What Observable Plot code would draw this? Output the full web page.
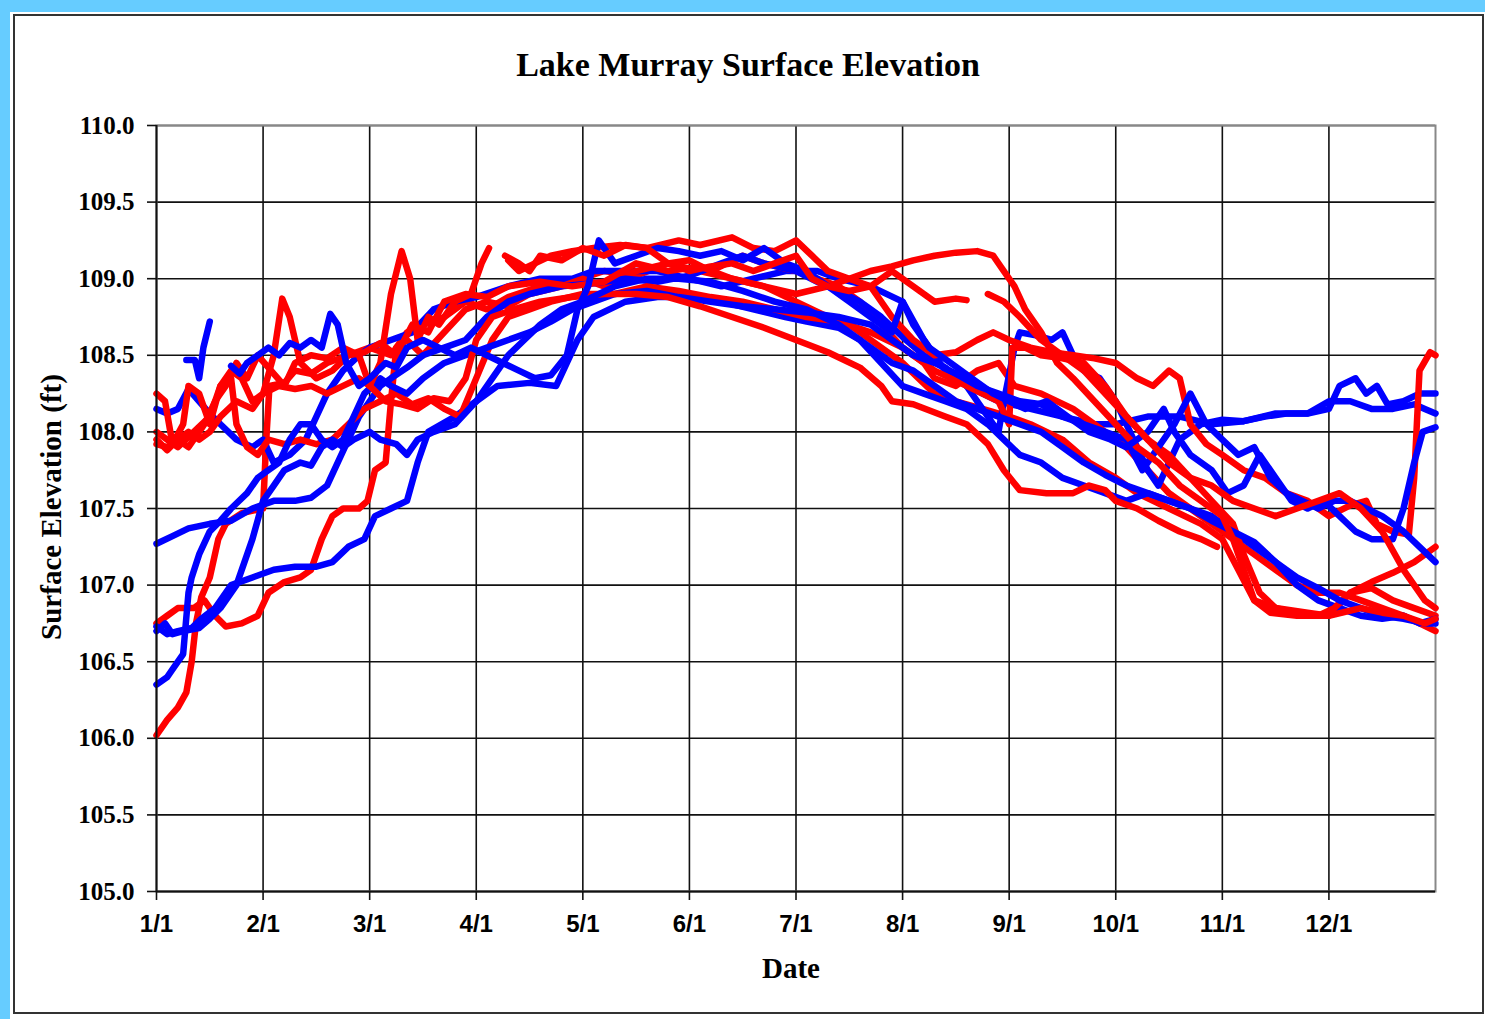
<!DOCTYPE html>
<html>
<head>
<meta charset="utf-8">
<script src="https://cdn.jsdelivr.net/npm/d3@7"></script>
<script src="https://cdn.jsdelivr.net/npm/@observablehq/plot@0.6"></script>
<style>
html, body { margin: 0; padding: 0; }
body { width: 1485px; height: 1019px; background: #66ccff; position: relative; overflow: hidden; }
#panel { position: absolute; left: 10px; top: 12px; width: 1475px; height: 1007px; background: #fff; }
#frame { position: absolute; left: 13px; top: 14px; width: 1467px; height: 996px; border: 2px solid #333; }
#title { position: absolute; left: 0; width: 1496px; top: 48px; text-align: center; font: bold 34px/34px "Liberation Serif", "Times New Roman", serif; color: #000; white-space: nowrap; }
#xlabel { position: absolute; left: 691px; width: 200px; top: 954px; text-align: center; font: bold 29px/29px "Liberation Serif", serif; color: #000; }
#ylabel { position: absolute; left: 51px; top: 507px; transform: translate(-50%, -50%) rotate(-90deg); font: bold 29px/29px "Liberation Serif", serif; color: #000; white-space: nowrap; }
#chart { position: absolute; left: 0; top: 100px; }
</style>
</head>
<body>
<div id="panel"></div>
<div id="frame"></div>
<div id="title">Lake Murray Surface Elevation</div>
<div id="chart"></div>
<div id="xlabel">Date</div>
<div id="ylabel">Surface Elevation (ft)</div>
<script>
// x = months since Jan 1 (0..12), y = surface elevation (ft)
const monthLabels = ["1/1","2/1","3/1","4/1","5/1","6/1","7/1","8/1","9/1","10/1","11/1","12/1"];
const yTicks = [105.0,105.5,106.0,106.5,107.0,107.5,108.0,108.5,109.0,109.5,110.0];

// ---- red years ----
const red1 = [[0,106.02],[0.1,106.12],[0.2,106.2],[0.28,106.3],[0.33,106.5],[0.37,106.75],[0.42,106.92],[0.5,107.05],[0.58,107.3],[0.65,107.4],[0.8,107.47],[1.0,107.5],[1.03,107.95],[1.06,108.3],[1.2,108.32],[1.3,108.4],[1.45,108.38],[1.6,108.45],[1.8,108.5],[2.0,108.55],[2.2,108.5],[2.35,108.65],[2.5,108.7],[2.7,108.75],[2.9,108.85],[3.1,108.8],[3.3,108.88],[3.6,108.95],[3.9,108.98],[4.2,109.05],[4.5,109.02],[4.8,109.1],[5.1,109.05],[5.4,109.0],[5.7,108.95],[6.0,108.85],[6.3,108.75],[6.5,108.7],[6.8,108.55],[7.0,108.45],[7.15,108.35],[7.3,108.25],[7.5,108.2],[7.75,108.15],[8.0,108.1],[8.2,108.05],[8.5,107.95],[8.75,107.8],[9.0,107.7],[9.2,107.6],[9.5,107.5],[9.8,107.4],[10.0,107.3],[10.15,107.1],[10.3,106.9],[10.5,106.85],[10.8,106.82],[11.0,106.8],[11.2,106.95],[11.4,106.98],[11.6,106.9],[11.8,106.85],[12,106.8]];
const red2 = [[0,106.75],[0.1,106.8],[0.2,106.85],[0.35,106.85],[0.45,106.9],[0.55,106.8],[0.65,106.73],[0.8,106.75],[0.95,106.8],[1.05,106.95],[1.2,107.02],[1.35,107.05],[1.45,107.1],[1.55,107.3],[1.65,107.45],[1.75,107.5],[1.9,107.5],[1.98,107.55],[2.05,107.75],[2.15,107.8],[2.2,108.2],[2.25,108.55],[2.35,108.6],[2.5,108.5],[2.7,108.65],[2.9,108.8],[3.1,108.85],[3.3,108.82],[3.5,108.9],[3.8,108.95],[4.0,109.0],[4.2,108.95],[4.5,109.05],[4.8,109.1],[5.0,109.12],[5.2,109.05],[5.5,109.15],[5.7,109.1],[6.0,109.05],[6.2,109.0],[6.4,108.95],[6.6,108.85],[6.8,108.7],[7.0,108.55],[7.2,108.45],[7.3,108.35],[7.5,108.3],[7.7,108.4],[7.9,108.45],[8.05,108.3],[8.3,108.25],[8.6,108.15],[8.9,108.0],[9.1,107.9],[9.3,107.75],[9.5,107.6],[9.7,107.5],[9.9,107.4],[10.1,107.3],[10.3,107.2],[10.5,107.1],[10.7,107.0],[10.9,106.95],[11.1,106.95],[11.3,106.9],[11.5,106.85],[11.7,106.8],[11.85,106.75],[12,106.7]];
const red3 = [[0,108.25],[0.08,108.2],[0.15,107.92],[0.25,108.05],[0.3,108.3],[0.4,108.25],[0.5,108.05],[0.6,108.3],[0.7,108.4],[0.8,108.35],[0.9,108.2],[1.0,108.25],[1.1,108.5],[1.18,108.87],[1.25,108.75],[1.35,108.45],[1.5,108.35],[1.65,108.4],[1.8,108.5],[1.95,108.52],[2.1,108.58],[2.25,108.5],[2.4,108.7],[2.55,108.65],[2.7,108.85],[2.9,108.9],[3.1,108.88],[3.3,108.95],[3.6,108.98],[3.9,108.95],[4.2,108.98],[4.5,109.1],[4.8,109.05],[5.1,109.08],[5.4,109.0],[5.7,108.95],[6.0,108.9],[6.3,108.95],[6.5,109.0],[6.7,108.95],[6.9,108.75],[7.1,108.6],[7.3,108.5],[7.5,108.52],[7.7,108.6],[7.85,108.65],[8.0,108.6],[8.2,108.55],[8.4,108.52],[8.6,108.5],[8.8,108.48],[9.0,108.45],[9.2,108.35],[9.35,108.3],[9.5,108.4],[9.6,108.35],[9.7,108.05],[9.85,107.92],[10.0,107.85],[10.2,107.75],[10.4,107.7],[10.6,107.6],[10.8,107.55],[11.0,107.45],[11.2,107.52],[11.35,107.55],[11.45,107.4],[11.6,107.35],[11.75,107.33],[11.8,107.7],[11.85,108.4],[11.95,108.52],[12,108.5]];
const red4 = [[0,108.0],[0.1,107.95],[0.2,107.9],[0.35,108.0],[0.5,108.1],[0.6,108.3],[0.7,108.35],[0.75,108.05],[0.85,107.9],[0.95,107.85],[1.05,107.95],[1.2,107.92],[1.35,107.95],[1.5,107.92],[1.65,107.95],[1.8,108.05],[1.95,108.15],[2.1,108.2],[2.25,108.25],[2.4,108.18],[2.55,108.22],[2.7,108.15],[2.85,108.1],[3.0,108.35],[3.15,108.6],[3.3,108.75],[3.5,108.8],[3.7,108.85],[4.0,108.9],[4.3,108.9],[4.6,108.95],[4.9,108.92],[5.2,108.88],[5.5,108.85],[5.8,108.8],[6.1,108.75],[6.4,108.72],[6.7,108.65],[7.0,108.55],[7.3,108.4],[7.6,108.3],[7.9,108.2],[8.0,108.05],[8.03,108.55],[8.15,108.55],[8.3,108.5],[8.5,108.48],[8.7,108.45],[8.9,108.3],[9.1,108.1],[9.3,107.95],[9.5,107.85],[9.7,107.7],[9.9,107.55],[10.1,107.4],[10.2,107.2],[10.35,106.95],[10.5,106.85],[10.7,106.82],[10.9,106.8],[11.05,106.85],[11.2,106.95],[11.4,107.02],[11.6,107.08],[11.8,107.15],[12,107.25]];
const red5 = [[0,107.92],[0.1,107.9],[0.2,107.95],[0.3,108.0],[0.4,107.95],[0.5,108.0],[0.6,108.1],[0.75,108.2],[0.9,108.15],[1.0,108.25],[1.15,108.3],[1.3,108.28],[1.45,108.3],[1.6,108.25],[1.75,108.3],[1.9,108.35],[2.0,108.3],[2.15,108.2],[2.3,108.18],[2.45,108.15],[2.6,108.22],[2.75,108.2],[2.9,108.35],[3.0,108.6],[3.15,108.75],[3.35,108.8],[3.6,108.85],[3.9,108.88],[4.2,108.9],[4.5,108.9],[4.8,108.88],[5.1,108.82],[5.4,108.75],[5.7,108.68],[6.0,108.6],[6.3,108.52],[6.6,108.42],[6.8,108.3],[6.9,108.2],[7.1,108.18],[7.4,108.1],[7.6,108.05],[7.8,107.92],[7.95,107.75],[8.1,107.62],[8.35,107.6],[8.6,107.6],[8.75,107.65],[8.9,107.62],[9.0,107.55],[9.2,107.5],[9.4,107.42],[9.6,107.35],[9.8,107.3],[9.95,107.25]];
const red6 = [[0,107.95],[0.1,107.88],[0.2,107.95],[0.3,107.9],[0.45,108.05],[0.55,108.2],[0.65,108.3],[0.75,108.45],[0.85,108.35],[0.95,108.5],[1.05,108.42],[1.2,108.3],[1.3,108.45],[1.45,108.5],[1.6,108.48],[1.75,108.55],[1.9,108.5],[2.0,108.3],[2.1,108.45],[2.2,108.9],[2.3,109.18],[2.38,109.0],[2.45,108.6],[2.55,108.75],[2.65,108.7],[2.8,108.85],[2.95,108.9],[3.05,109.1],[3.12,109.2],[3.2,null],[3.3,109.12],[3.4,109.05],[3.55,109.1],[3.7,109.15],[3.9,109.18],[4.1,109.2],[4.35,109.22],[4.6,109.2],[4.9,109.25],[5.1,109.22],[5.4,109.27],[5.6,109.2],[5.8,109.18],[6.0,109.25],[6.15,109.15],[6.3,109.05],[6.5,109.0],[6.7,109.05],[6.9,109.08],[7.1,109.12],[7.3,109.15],[7.5,109.17],[7.7,109.18],[7.85,109.15],[7.95,109.05],[8.05,108.95],[8.15,108.8],[8.3,108.65],[8.45,108.45],[8.6,108.35],[8.8,108.2],[9.0,108.05],[9.2,107.9],[9.4,107.8],[9.6,107.65],[9.8,107.55],[10.0,107.45],[10.1,107.3],[10.2,107.1],[10.3,106.9],[10.45,106.82],[10.7,106.8],[11.0,106.8],[11.3,106.85],[11.5,106.82],[11.7,106.8],[11.9,106.75],[12,106.78]];
const red7 = [[3.27,109.15],[3.4,109.1],[3.5,109.05],[3.6,109.15],[3.8,109.12],[4.0,109.2],[4.2,109.15],[4.4,109.22],[4.6,109.2],[4.8,109.1],[5.0,109.05],[5.2,109.08],[5.4,109.1],[5.6,109.05],[5.8,109.1],[6.0,109.15],[6.15,109.0],[6.3,108.95],[6.5,108.92],[6.7,108.95],[6.9,109.05],[7.1,108.95],[7.3,108.85],[7.5,108.87],[7.6,108.86],[7.7,null],[7.8,108.9],[7.95,108.85],[8.1,108.75],[8.3,108.6],[8.5,108.5],[8.7,108.4],[8.9,108.25],[9.1,108.1],[9.3,107.95],[9.5,107.8],[9.7,107.7],[9.9,107.65],[10.1,107.55],[10.3,107.5],[10.5,107.45],[10.7,107.5],[10.9,107.55],[11.1,107.6],[11.3,107.5],[11.5,107.35],[11.7,107.1],[11.9,106.9],[12,106.85]];

// ---- blue years ----
const blue1 = [[0,108.15],[0.1,108.12],[0.2,108.15],[0.3,108.28],[0.4,108.2],[0.5,108.12],[0.6,108.05],[0.75,107.95],[0.9,107.9],[1.0,107.95],[1.1,107.8],[1.25,107.85],[1.4,107.95],[1.5,108.1],[1.6,108.25],[1.75,108.4],[1.9,108.5],[2.0,108.55],[2.2,108.6],[2.4,108.65],[2.6,108.8],[2.8,108.85],[3.0,108.88],[3.3,108.95],[3.6,109.0],[3.9,109.0],[4.1,109.05],[4.4,109.05],[4.7,109.05],[5.0,109.0],[5.3,108.95],[5.6,109.0],[5.9,109.05],[6.2,109.05],[6.4,109.0],[6.7,108.95],[7.0,108.85],[7.2,108.6],[7.4,108.4],[7.6,108.3],[7.9,108.2],[8.2,108.15],[8.5,108.1],[8.8,108.05],[9.0,108.05],[9.3,108.1],[9.6,108.1],[9.9,108.05],[10.2,108.07],[10.5,108.12],[10.8,108.12],[11.0,108.15],[11.1,108.3],[11.25,108.35],[11.35,108.25],[11.45,108.3],[11.55,108.18],[11.7,108.2],[11.85,108.25],[12,108.25]];
const blue2 = [[0,107.27],[0.15,107.32],[0.3,107.37],[0.5,107.4],[0.7,107.42],[0.9,107.5],[1.1,107.55],[1.3,107.55],[1.45,107.57],[1.6,107.65],[1.7,107.8],[1.8,107.95],[1.9,108.1],[2.0,108.2],[2.1,108.3],[2.2,108.35],[2.35,108.42],[2.5,108.5],[2.7,108.55],[2.9,108.6],[3.1,108.75],[3.3,108.85],[3.5,108.9],[3.8,108.95],[4.1,108.97],[4.4,109.0],[4.7,108.98],[5.0,109.02],[5.3,109.1],[5.5,109.15],[5.7,109.1],[6.0,109.05],[6.2,108.98],[6.4,108.92],[6.6,108.85],[6.8,108.75],[7.0,108.62],[7.2,108.5],[7.4,108.42],[7.6,108.3],[7.8,108.1],[7.9,108.0],[7.95,108.2],[8.05,108.55],[8.1,108.65],[8.25,108.63],[8.4,108.6],[8.5,108.65],[8.6,108.5],[8.7,108.4],[8.85,108.35],[9.0,108.2],[9.1,108.05],[9.2,107.9],[9.3,107.75],[9.4,107.65],[9.5,107.8],[9.6,107.95],[9.8,108.05],[10.0,108.08],[10.2,108.07],[10.4,108.1],[10.6,108.12],[10.8,108.12],[11.0,108.2],[11.2,108.2],[11.4,108.15],[11.6,108.15],[11.8,108.18],[11.9,108.15],[12,108.12]];
const blue3 = [[0,106.73],[0.1,106.68],[0.2,106.7],[0.33,106.72],[0.42,106.78],[0.55,106.85],[0.7,107.0],[0.9,107.05],[1.1,107.1],[1.3,107.12],[1.5,107.12],[1.65,107.15],[1.8,107.25],[1.95,107.3],[2.05,107.45],[2.2,107.5],[2.35,107.55],[2.45,107.8],[2.55,108.0],[2.8,108.1],[3.0,108.2],[3.2,108.3],[3.5,108.32],[3.75,108.3],[3.85,108.45],[3.95,108.6],[4.1,108.75],[4.4,108.85],[4.7,108.88],[5.0,108.88],[5.3,108.85],[5.6,108.8],[5.9,108.75],[6.1,108.72],[6.4,108.68],[6.6,108.6],[6.8,108.45],[7.0,108.3],[7.2,108.25],[7.4,108.2],[7.6,108.15],[7.8,108.05],[7.95,107.95],[8.1,107.85],[8.3,107.8],[8.5,107.7],[8.7,107.65],[8.9,107.6],[9.1,107.55],[9.3,107.6],[9.5,107.55],[9.7,107.5],[9.9,107.45],[10.1,107.35],[10.3,107.25],[10.5,107.15],[10.7,107.0],[10.9,106.9],[11.1,106.85],[11.3,106.8],[11.5,106.78],[11.7,106.8],[11.85,106.75],[12,106.78]];
const blue4 = [[0,106.35],[0.1,106.4],[0.15,106.45],[0.25,106.55],[0.3,106.95],[0.33,107.05],[0.4,107.2],[0.5,107.35],[0.6,107.42],[0.7,107.5],[0.85,107.6],[0.95,107.7],[1.05,107.75],[1.15,107.8],[1.25,107.95],[1.35,108.05],[1.45,108.05],[1.55,107.95],[1.65,107.9],[1.75,107.95],[1.85,108.1],[1.95,108.25],[2.1,108.35],[2.2,108.3],[2.35,108.25],[2.5,108.35],[2.7,108.45],[2.9,108.5],[3.1,108.55],[3.3,108.6],[3.5,108.65],[3.7,108.72],[3.9,108.8],[4.1,108.85],[4.3,108.9],[4.6,108.92],[4.9,108.88],[5.2,108.85],[5.5,108.82],[5.8,108.8],[6.1,108.78],[6.4,108.75],[6.7,108.7],[6.9,108.6],[7.1,108.5],[7.3,108.45],[7.5,108.38],[7.7,108.3],[7.9,108.25],[8.1,108.2],[8.3,108.18],[8.5,108.1],[8.7,108.05],[8.9,108.0],[9.1,107.95],[9.25,107.75],[9.4,107.9],[9.55,108.05],[9.7,108.25],[9.85,108.05],[10.0,107.95],[10.15,107.85],[10.3,107.9],[10.45,107.7],[10.6,107.6],[10.75,107.55],[10.9,107.5],[11.05,107.55],[11.2,107.55],[11.35,107.5],[11.5,107.45],[11.7,107.35],[11.85,107.25],[12,107.15]];
const blue5 = [[0,106.7],[0.08,106.75],[0.15,106.68],[0.25,106.7],[0.4,106.72],[0.5,106.78],[0.6,106.85],[0.75,107.0],[0.9,107.3],[1.0,107.55],[1.1,107.65],[1.2,107.75],[1.35,107.8],[1.45,107.78],[1.55,107.9],[1.65,107.95],[1.75,107.9],[1.85,107.95],[2.0,108.0],[2.1,107.95],[2.25,107.92],[2.35,107.85],[2.45,107.95],[2.6,108.0],[2.8,108.05],[3.0,108.2],[3.15,108.35],[3.3,108.5],[3.45,108.6],[3.6,108.7],[3.8,108.8],[4.0,108.85],[4.3,108.95],[4.6,109.0],[4.9,109.0],[5.2,108.98],[5.5,108.92],[5.8,108.85],[6.1,108.8],[6.4,108.7],[6.7,108.55],[6.9,108.45],[7.1,108.4],[7.3,108.3],[7.5,108.2],[7.7,108.15],[7.9,108.1],[8.1,108.05],[8.3,108.0],[8.5,107.9],[8.7,107.8],[8.9,107.72],[9.1,107.65],[9.3,107.6],[9.5,107.55],[9.7,107.5],[9.9,107.42],[10.1,107.35],[10.3,107.28],[10.5,107.15],[10.7,107.05],[10.9,106.98],[11.1,106.9],[11.3,106.85],[11.5,106.8],[11.7,106.78],[11.9,106.75],[12,106.75]];
const blue6 = [[0.7,108.43],[0.78,108.38],[0.85,108.45],[0.95,108.5],[1.05,108.55],[1.15,108.5],[1.25,108.58],[1.35,108.55],[1.45,108.6],[1.55,108.55],[1.63,108.77],[1.7,108.7],[1.78,108.45],[1.9,108.3],[2.0,108.35],[2.15,108.45],[2.25,108.42],[2.35,108.55],[2.5,108.6],[2.65,108.55],[2.8,108.5],[2.95,108.55],[3.1,108.5],[3.25,108.45],[3.4,108.4],[3.55,108.35],[3.7,108.37],[3.85,108.5],[3.95,108.8],[4.05,108.95],[4.15,109.25],[4.3,109.1],[4.5,109.15],[4.7,109.2],[4.9,109.18],[5.1,109.15],[5.3,109.18],[5.5,109.12],[5.7,109.2],[5.9,109.1],[6.1,109.05],[6.3,108.95],[6.5,108.85],[6.7,108.75],[6.9,108.65],[7.0,108.85],[7.1,108.7],[7.25,108.55],[7.45,108.45],[7.65,108.35],[7.85,108.25],[8.0,108.2],[8.15,108.15],[8.35,108.2],[8.55,108.1],[8.75,108.0],[8.95,107.95],[9.1,107.9],[9.3,108.0],[9.45,108.15],[9.55,108.0],[9.7,107.85],[9.9,107.75],[10.05,107.6],[10.2,107.65],[10.35,107.85],[10.5,107.7],[10.65,107.55],[10.8,107.5],[10.95,107.55],[11.1,107.45],[11.25,107.35],[11.4,107.3],[11.6,107.3],[11.7,107.5],[11.8,107.8],[11.88,108.0],[12,108.03]];
const blue7 = [[0.28,108.47],[0.36,108.47],[0.4,108.35],[0.44,108.55],[0.5,108.72]];

const series = [
  ["red1", "#ff0000", red1], ["blue1", "#0000ff", blue1],
  ["red2", "#ff0000", red2], ["blue2", "#0000ff", blue2],
  ["red3", "#ff0000", red3], ["blue3", "#0000ff", blue3],
  ["red4", "#ff0000", red4], ["blue4", "#0000ff", blue4],
  ["red5", "#ff0000", red5], ["blue5", "#0000ff", blue5],
  ["red6", "#ff0000", red6], ["blue6", "#0000ff", blue6],
  ["red7", "#ff0000", red7], ["blue7", "#0000ff", blue7]
];
const rows = [];
for (const [name, color, pts] of series) {
  for (const [m, v] of pts) rows.push({name, color, m, v: v == null ? NaN : v});
}

const chart = Plot.plot({
  width: 1485,
  height: 860,
  marginLeft: 156,
  marginRight: 50,
  marginTop: 25,
  marginBottom: 69,
  style: {background: "transparent", color: "#000"},
  x: {domain: [0, 12]},
  y: {domain: [105, 110]},
  color: {type: "identity"},
  marks: [
    Plot.gridX(d3.range(1, 12), {stroke: "#111", strokeOpacity: 1, strokeWidth: 1.6}),
    Plot.gridY(yTicks, {stroke: "#111", strokeOpacity: 1, strokeWidth: 1.6}),
    Plot.frame({stroke: "#888", strokeWidth: 2}),
    Plot.line(rows, {x: "m", y: "v", z: "name", stroke: "color", strokeWidth: 6.5, strokeLinejoin: "round", strokeLinecap: "round"}),
    Plot.ruleX([0], {stroke: "#111", strokeWidth: 2}),
    Plot.ruleY([105], {stroke: "#111", strokeWidth: 2}),
    Plot.axisX(d3.range(0, 12), {
      tickSize: 9, tickPadding: 14, stroke: "#111", strokeWidth: 1.6,
      tickFormat: (d) => monthLabels[d],
      fontFamily: "Liberation Sans, Arial, sans-serif", fontWeight: "bold", fontSize: 24, label: null
    }),
    Plot.axisY(yTicks, {
      tickSize: 9, tickPadding: 13, stroke: "#111", strokeWidth: 1.6,
      tickFormat: (d) => d.toFixed(1),
      fontFamily: "Liberation Serif, Times New Roman, serif", fontWeight: "bold", fontSize: 25, label: null
    })
  ]
});
document.getElementById("chart").appendChild(chart);
</script>
</body>
</html>
